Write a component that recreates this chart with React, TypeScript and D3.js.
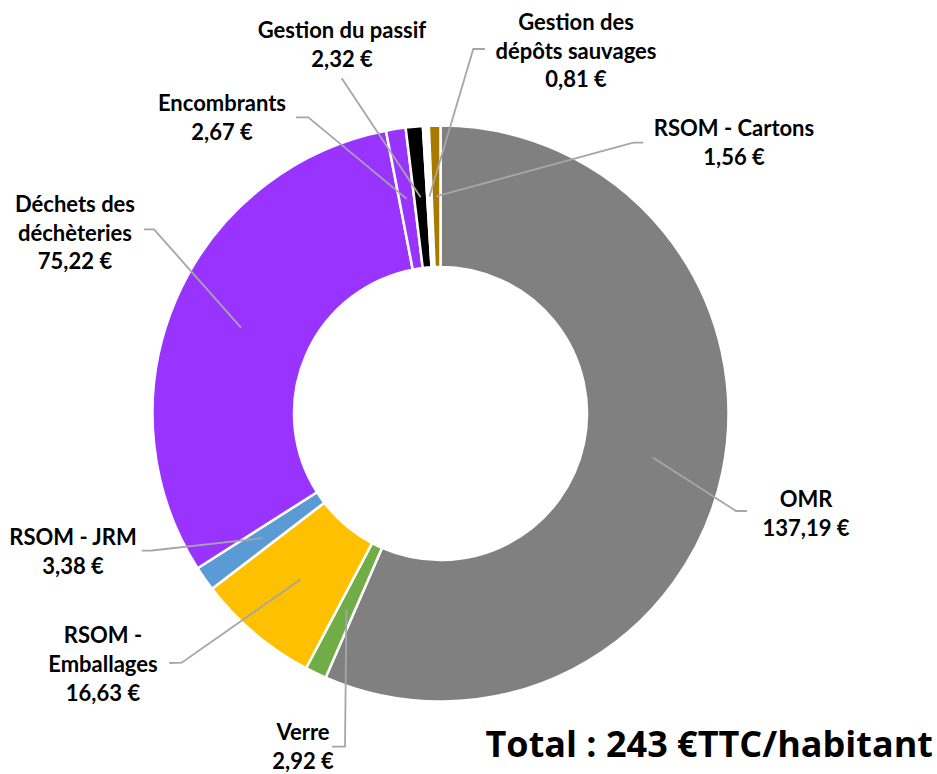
import React, { useEffect } from "react";
import * as d3 from "d3";

const categories = [
  "OMR",
  "Verre",
  "RSOM - Emballages",
  "RSOM - JRM",
  "Déchets des déchèteries",
  "Encombrants",
  "Gestion du passif",
  "Gestion des dépôts sauvages",
  "RSOM - Cartons",
];
const values = [137.19, 2.92, 16.63, 3.38, 75.22, 2.67, 2.32, 0.81, 1.56];
const colors = ["#808080", "#70AD47", "#FFC000", "#5B9BD5", "#9933FF", "#9933FF", "#000000", "#FFFFFF", "#A67C00"];
const totalLabel = "Total : 243 €TTC/habitant";

// label layout (text lines, center x, first baseline, leader elbow & end)
const labelLines = [
  ["OMR"],
  ["Verre"],
  ["RSOM -", "Emballages"],
  ["RSOM - JRM"],
  ["Déchets des", "déchèteries"],
  ["Encombrants"],
  ["Gestion du passif"],
  ["Gestion des", "dépôts sauvages"],
  ["RSOM - Cartons"],
];
const labelPos = [
  { cx: 806, y: 506.7, elbow: [736, 511], end: [747, 511] },
  { cx: 303, y: 740, elbow: [345, 746.7], end: [332, 746.7] },
  { cx: 103, y: 643.3, elbow: [181.7, 662.7], end: [169.3, 663] },
  { cx: 73, y: 545, elbow: [152, 550.5], end: [141.7, 550.7] },
  { cx: 75, y: 211.7, elbow: [154, 229.3], end: [144, 229.3] },
  { cx: 222, y: 110.7, elbow: [308.3, 117.3], end: [296, 117.3] },
  { cx: 342, y: 38, elbow: [341.7, 78.3], end: [341.7, 78.3] },
  { cx: 576, y: 29.7, elbow: [473.3, 49], end: [485, 49] },
  { cx: 734, y: 136, elbow: [633.3, 142.7], end: [643.3, 142.7] },
];

const W = 937;
const H = 774;
const CX = 440.5;
const CY = 413.5;
const R_OUT = 288;
const R_IN = 146.5;
const LINE_H = 28.8;

const fmt = (v: number) => v.toFixed(2).replace(".", ",") + " €";

export default function App() {
  useEffect(() => {
    document.body.style.margin = "0";
  }, []);

  const data = categories.map((c, i) => ({ name: c, value: values[i], i }));
  const pie = d3.pie<any>().value((d: any) => d.value).sort(null).startAngle(0).endAngle(2 * Math.PI);
  const arcs = pie(data);
  const arc = d3.arc<any>().innerRadius(R_IN).outerRadius(R_OUT);

  return (
    <svg width={W} height={H} style={{ display: "block", background: "#fff" }}>
      <g transform={`translate(${CX},${CY})`}>
        {arcs.map((a, i) => (
          <path key={i} d={arc(a) as string} fill={colors[i]} stroke="#FFFFFF" strokeWidth={2.5} strokeLinejoin="round" />
        ))}
      </g>
      {arcs.map((a, i) => {
        const [x0, y0] = arc.centroid(a);
        const p = labelPos[i];
        const pts = `${CX + x0},${CY + y0} ${p.elbow[0]},${p.elbow[1]} ${p.end[0]},${p.end[1]}`;
        return <polyline key={"l" + i} points={pts} fill="none" stroke="#A6A6A6" strokeWidth={1.8} />;
      })}
      {arcs.map((a, i) => {
        const p = labelPos[i];
        const lines = [...labelLines[i], fmt(values[i])];
        return (
          <text
            key={"t" + i}
            x={p.cx}
            y={p.y}
            textAnchor="middle"
            fontFamily="Lato, 'Open Sans', sans-serif"
            fontWeight={700}
            fontSize={22}
            fill="#000"
          >
            {lines.map((ln, k) => (
              <tspan key={k} x={p.cx} y={p.y + k * LINE_H}>
                {ln}
              </tspan>
            ))}
          </text>
        );
      })}
      <text x={933} y={757} textAnchor="end" fontFamily="'Open Sans', sans-serif" fontWeight={700} fontSize={36} fill="#000">
        {totalLabel}
      </text>
    </svg>
  );
}
